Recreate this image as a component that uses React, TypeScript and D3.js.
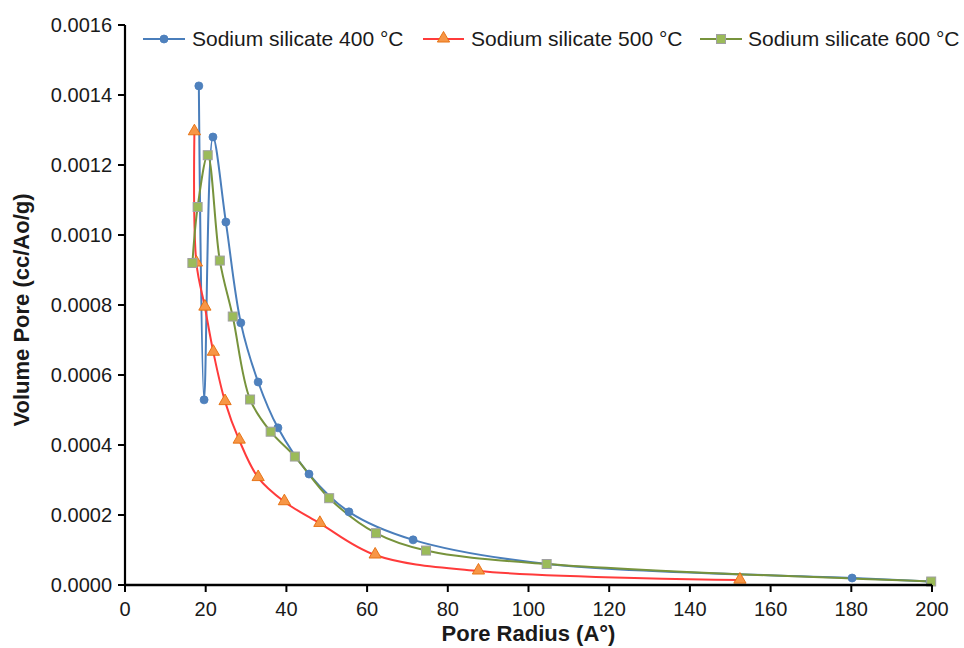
import React from "react";
import * as d3 from "d3";

const x400 = [18.3, 19.6, 21.8, 25.0, 28.7, 33.0, 37.9, 45.6, 55.5, 71.4, 104.6, 180.2, 199.5];
const y400 = [0.001426, 0.000529, 0.00128, 0.001037, 0.000749, 0.00058, 0.000449, 0.000317, 0.000209, 0.000129, 0.00006, 0.00002, 0.00001];

const x500 = [17.2, 17.7, 19.8, 21.9, 24.8, 28.3, 33.0, 39.5, 48.3, 62.0, 87.6, 152.4];
const y500 = [0.001295, 0.00092, 0.000794, 0.000665, 0.000524, 0.000414, 0.000307, 0.000238, 0.000176, 0.0000857, 0.00004, 0.000014];

const x600 = [16.7, 18.0, 20.5, 23.5, 26.7, 31.0, 36.1, 42.1, 50.6, 62.2, 74.6, 104.5, 199.8];
const y600 = [0.00092, 0.00108, 0.001228, 0.000927, 0.000767, 0.00053, 0.000438, 0.000367, 0.000248, 0.000148, 0.0000983, 0.00006, 0.00001];

const seriesNames = ["Sodium silicate 400 °C", "Sodium silicate 500 °C", "Sodium silicate 600 °C"];
const xTicks = [0, 20, 40, 60, 80, 100, 120, 140, 160, 180, 200];
const yTicks = [0, 0.0002, 0.0004, 0.0006, 0.0008, 0.001, 0.0012, 0.0014, 0.0016];

const W = 964, H = 648;
const left = 125, right = 932, top = 25, bottom = 585;
const font = "'Liberation Sans', Arial, sans-serif";

export default function App() {
  const x = d3.scaleLinear().domain([0, 200]).range([left, right]);
  const y = d3.scaleLinear().domain([0, 0.0016]).range([bottom, top]);
  const line = d3
    .line<[number, number]>()
    .x((d) => x(d[0]))
    .y((d) => y(d[1]))
    .curve(d3.curveCatmullRom.alpha(0.5));

  const s400 = x400.map((v, i) => [v, y400[i]] as [number, number]);
  const s500 = x500.map((v, i) => [v, y500[i]] as [number, number]);
  const s600 = x600.map((v, i) => [v, y600[i]] as [number, number]);

  const tri = d3.symbol().type(d3.symbolTriangle).size(65)()!;

  const circle = (cx: number, cy: number, k: string) => (
    <circle key={k} cx={cx} cy={cy} r={4} fill="#4f81bd" stroke="#4a7ebb" strokeWidth={0.8} />
  );
  const triangle = (cx: number, cy: number, k: string) => (
    <path key={k} d={tri} transform={`translate(${cx},${cy - 0.5})`} fill="#f79646" stroke="#e46c0a" strokeWidth={0.9} />
  );
  const square = (cx: number, cy: number, k: string) => (
    <rect key={k} x={cx - 4.5} y={cy - 4.5} width={9} height={9} fill="#9bbb59" stroke="#a0a0a0" strokeWidth={1} />
  );

  const legendItems = [
    { x0: 143, x1: 185, color: "#4a7ebb", mk: circle, tx: 192 },
    { x0: 423, x1: 464, color: "#ff3b3b", mk: triangle, tx: 471 },
    { x0: 700, x1: 742, color: "#77933c", mk: square, tx: 748 },
  ];

  return (
    <svg width={W} height={H} style={{ position: "absolute", left: 0, top: 0, background: "#fff" }} fontFamily={font}>
      <rect width={W} height={H} fill="#fff" />
      {/* lines */}
      <path d={line(s400)!} fill="none" stroke="#4a7ebb" strokeWidth={2} />
      <path d={line(s500)!} fill="none" stroke="#ff3b3b" strokeWidth={2} />
      <path d={line(s600)!} fill="none" stroke="#77933c" strokeWidth={2} />
      {s400.map((d, i) => circle(x(d[0]), y(d[1]), "c" + i))}
      {s500.map((d, i) => triangle(x(d[0]), y(d[1]), "t" + i))}
      {s600.map((d, i) => square(x(d[0]), y(d[1]), "s" + i))}

      {/* axes */}
      <line x1={left} x2={left} y1={top} y2={bottom} stroke="#000" strokeWidth={2.2} />
      <line x1={left} x2={right} y1={bottom} y2={bottom} stroke="#000" strokeWidth={2.5} />
      {yTicks.map((t) => (
        <g key={"yt" + t}>
          <line x1={left - 7} x2={left} y1={y(t)} y2={y(t)} stroke="#000" strokeWidth={2} />
          <text x={left - 13} y={y(t)} dy="0.35em" textAnchor="end" fontSize={20} fill="#1a1a1a">
            {t.toFixed(4)}
          </text>
        </g>
      ))}
      {xTicks.map((t) => (
        <g key={"xt" + t}>
          <line x1={x(t)} x2={x(t)} y1={bottom} y2={bottom + 7} stroke="#000" strokeWidth={2} />
          <text x={x(t)} y={609} dy="0.35em" textAnchor="middle" fontSize={20} fill="#1a1a1a">
            {t}
          </text>
        </g>
      ))}
      <text x={(left + right) / 2} y={641} textAnchor="middle" fontSize={22} fontWeight="bold" fill="#1a1a1a">
        Pore Radius (A°)
      </text>
      <text
        transform={`translate(21,310) rotate(-90)`}
        textAnchor="middle"
        dy="0.35em"
        fontSize={22}
        fontWeight="bold"
        fill="#1a1a1a"
      >
        Volume Pore (cc/Ao/g)
      </text>

      {/* legend */}
      {legendItems.map((it, i) => (
        <g key={"lg" + i}>
          <line x1={it.x0} x2={it.x1} y1={39} y2={39} stroke={it.color} strokeWidth={2} />
          {it.mk((it.x0 + it.x1) / 2, 39, "lm" + i)}
          <text x={it.tx} y={39} dy="0.35em" fontSize={21} fill="#1a1a1a">
            {seriesNames[i]}
          </text>
        </g>
      ))}
    </svg>
  );
}
